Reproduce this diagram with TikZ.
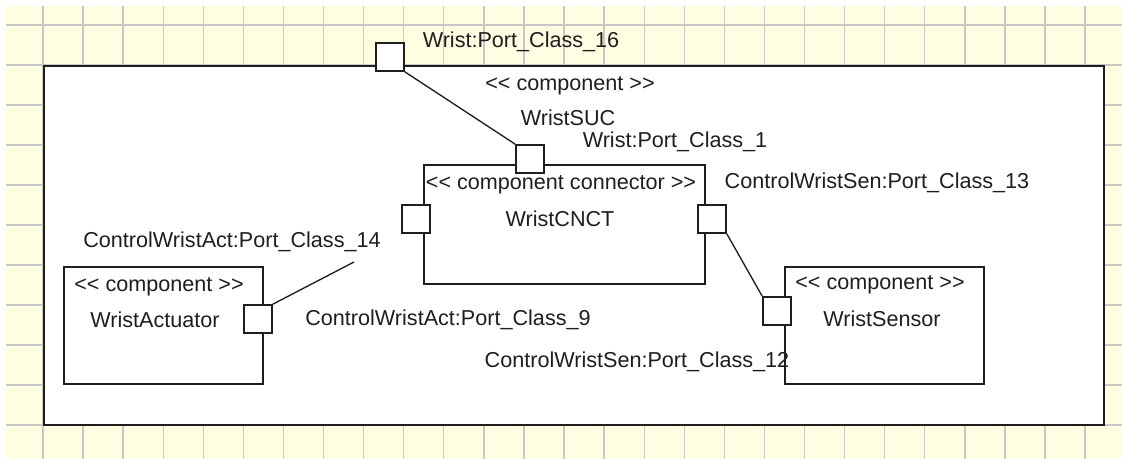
\documentclass[tikz,border=0pt]{standalone}
\usepackage{fontspec}
\setmainfont{Liberation Sans}
\newlength\pxu \setlength\pxu{0.75pt}
\newcommand\LLt{\mbox{<}\mbox{<}}
\newcommand\GGt{\mbox{>}\mbox{>}}
\definecolor{gridbg}{RGB}{255,253,226}
\definecolor{gridln}{RGB}{200,200,200}
\definecolor{ink}{RGB}{30,30,30}
\begin{document}
\begin{tikzpicture}[x=0.75pt,y=-0.75pt,
  font=\fontsize{16.2}{19}\selectfont,
  frm/.style={draw=ink,line width=1.6pt,fill=white,inner sep=0,anchor=north west},
  box/.style={draw=ink,line width=1.2pt,fill=white,inner sep=0,anchor=north west},
  port/.style={draw=ink,line width=1.2pt,fill=white,inner sep=0,minimum size=28\pxu},
  lbl/.style={inner sep=0,text=ink},
  wire/.style={draw=ink,line width=1pt}]
\useasboundingbox (0,0) rectangle (1122,459);
\fill[gridbg] (6,6) rectangle (1122,459);
\foreach \k in {0,...,26} \draw[gridln,line width=1pt] ({43+40.08*\k},6) -- ({43+40.08*\k},459);
\foreach \k in {0,...,10} \draw[gridln,line width=1pt] (6,{25+40*\k}) -- (1122,{25+40*\k});
% outer component frame
\node[frm,minimum width=1060\pxu,minimum height=359\pxu] (frame) at (43,65) {};
% inner boxes
\node[box,minimum width=281\pxu,minimum height=119\pxu] (cnct) at (423,164) {};
\node[box,minimum width=199\pxu,minimum height=117\pxu] (act) at (63,266) {};
\node[box,minimum width=199\pxu,minimum height=117\pxu] (sen) at (784,266) {};
% ports
\node[port] (p16) at (390,57) {};
\node[port] (p1) at (530,159) {};
\node[port] (pl) at (416,219) {};
\node[port] (pr) at (712,219) {};
\node[port] (ps) at (777,311) {};
\node[port] (pa) at (258,319) {};
\coordinate (free) at (354,262);
% connectors
\draw[wire] (p16.south east) -- (p1.north west);
\draw[wire] (pr.south east) -- (ps.north west);
\draw[wire] (pa.north east) -- (free);
% labels
\node[lbl] (t16) at (521,42) {Wrist:Port\_Class\_16};
\node[lbl] (tst) at (570,86) {\LLt{} component \GGt};
\node[lbl] (tsuc) at (568,118) {WristSUC};
\node[lbl] (t1) at (675,142) {Wrist:Port\_Class\_1};
\node[lbl] (tcst) at (561,185) {\LLt{} component connector \GGt};
\node[lbl] (tcn) at (560,219) {WristCNCT};
\node[lbl] (t13) at (877,183) {ControlWristSen:Port\_Class\_13};
\node[lbl] (t14) at (232,242) {ControlWristAct:Port\_Class\_14};
\node[lbl] (t9) at (448,320) {ControlWristAct:Port\_Class\_9};
\node[lbl] (t12) at (637,362) {ControlWristSen:Port\_Class\_12};
\node[lbl] (tast) at (159,287) {\LLt{} component \GGt};
\node[lbl] (tact) at (155,320) {WristActuator};
\node[lbl] (tsst) at (880,285) {\LLt{} component \GGt};
\node[lbl] (tsen) at (882,319) {WristSensor};
\end{tikzpicture}
\end{document}
